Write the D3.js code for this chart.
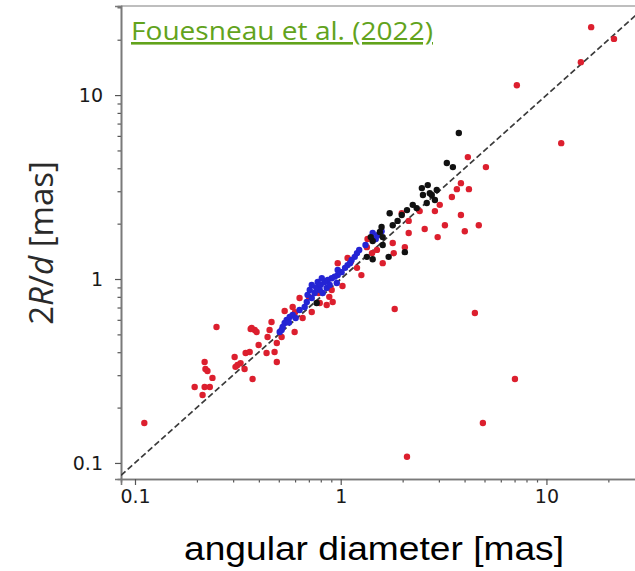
<!DOCTYPE html>
<html>
<head>
<meta charset="utf-8">
<script src="https://cdn.jsdelivr.net/npm/d3@7"></script>
<style>
  html, body { margin: 0; padding: 0; background: #fff; }
  svg { display: block; }
</style>
</head>
<body>
<svg id="chart" width="635" height="571"></svg>
<script>
// Angular diameter vs. 2R/d, both in mas — [angular diameter, 2R/d]
const redStars = [
  [0.111, 0.165], [2.10, 0.108], [4.91, 0.165], [7.03, 0.286], [4.49, 0.653],
  [1.83, 0.687], [11.8, 5.48], [7.18, 11.3], [16.5, 23.4], [21.3, 20.2],
  [14.7, 15.1], [4.15, 4.60], [5.08, 4.06], [3.84, 3.32], [3.67, 3.08],
  [4.20, 3.08], [2.87, 2.34], [3.84, 2.23], [3.21, 1.96], [4.69, 1.96],
  [2.56, 1.87], [4.01, 1.82], [2.96, 1.69], [2.14, 1.78], [2.42, 2.34],
  [2.14, 2.07], [1.98, 2.28], [1.79, 1.57], [1.81, 1.38], [2.05, 1.49],
  [1.60, 1.22], [1.50, 1.44], [1.35, 1.65], [1.34, 1.49], [1.08, 1.30],
  [0.967, 1.22], [0.914, 0.750], [0.855, 0.723], [0.791, 0.741], [0.904, 0.871],
  [0.534, 0.670], [0.584, 0.705], [0.597, 0.515], [0.461, 0.584], [0.451, 0.528],
  [0.382, 0.528], [0.369, 0.542], [0.489, 0.449], [0.441, 0.484], [0.516, 0.484],
  [0.653, 0.614], [0.723, 0.662], [0.249, 0.548], [0.365, 0.535], [0.390, 0.515],
  [0.399, 0.438], [0.436, 0.396], [0.477, 0.401], [0.489, 0.354], [0.305, 0.377],
  [0.326, 0.349], [0.345, 0.396], [0.361, 0.401], [0.315, 0.341], [0.341, 0.324],
  [0.373, 0.286], [0.308, 0.333], [0.218, 0.354], [0.220, 0.324], [0.225, 0.316],
  [0.238, 0.290], [0.195, 0.259], [0.218, 0.259], [0.231, 0.259], [0.213, 0.234],
  [1.20, 1.15], [1.26, 1.05], [1.02, 0.916], [0.631, 0.788], [3.47, 2.79],
  [3.03, 2.53], [0.70, 0.80], [0.78, 0.84], [0.60, 0.66], [1.12, 1.24],
  [1.42, 1.38], [0.88, 0.80]
];
const blueStars = [
  [1.58, 1.82], [1.51, 1.73], [1.43, 1.78], [1.48, 1.65], [1.20, 1.38],
  [1.17, 1.32], [1.13, 1.27], [1.08, 1.19], [1.05, 1.15], [1.01, 1.09],
  [0.967, 1.05], [0.935, 1.03], [0.904, 1.01], [0.865, 0.988], [0.836, 0.963],
  [0.809, 1.01], [0.773, 0.963], [0.723, 0.928], [0.707, 0.871], [0.747, 0.839],
  [0.723, 0.788], [0.684, 0.750], [0.817, 0.839], [0.855, 0.894], [0.884, 0.928],
  [0.957, 0.951], [0.668, 0.705], [0.546, 0.599], [0.534, 0.577], [0.522, 0.548],
  [0.516, 0.528], [0.505, 0.515], [0.565, 0.621], [0.584, 0.637], [1.11, 1.22],
  [0.967, 1.12], [0.631, 0.679], [0.604, 0.614], [0.791, 0.871], [1.23, 1.44],
  [1.32, 1.53], [0.76, 0.90], [0.69, 0.82], [0.80, 0.93], [0.56, 0.58]
];
const blackStars = [
  [3.75, 6.22], [3.28, 4.27], [3.51, 4.06], [2.77, 2.86], [2.48, 3.12],
  [2.51, 2.86], [2.71, 2.93], [2.62, 2.59], [2.34, 2.43], [2.24, 2.53],
  [2.10, 2.37], [1.98, 2.23], [1.89, 2.07], [1.73, 2.28], [1.79, 1.96],
  [1.58, 1.92], [1.55, 1.80], [1.60, 1.69], [1.43, 1.61], [1.40, 1.69],
  [1.60, 1.53], [1.71, 1.32], [2.05, 1.40], [1.43, 1.28], [1.34, 1.32],
  [0.764, 0.741], [2.93, 3.05], [2.65, 3.24], [2.87, 2.69]
];
const majorTicks = [0.1, 1, 10];
const tickLabels = ["0.1", "1", "10"];
const minorTicksX = [0.2, 0.3, 0.4, 0.5, 0.6, 0.7, 0.8, 0.9, 2, 3, 4, 5, 6, 7, 8, 9, 20];
const minorTicksY = [0.2, 0.3, 0.4, 0.5, 0.6, 0.7, 0.8, 0.9, 2, 3, 4, 5, 6, 7, 8, 9, 20, 30];

const svg = d3.select("#chart");
const plotLeft = 121, plotRight = 640, plotTop = 6, plotBottom = 479;

const x = d3.scaleLog().domain([0.0855, 28.5]).range([plotLeft, plotRight]);
const y = d3.scaleLog().domain([0.0818, 30.5]).range([plotBottom, plotTop]);

// clip for the plotting area
svg.append("defs").append("clipPath").attr("id", "plotArea")
  .append("rect").attr("x", plotLeft).attr("y", plotTop)
  .attr("width", plotRight - plotLeft).attr("height", plotBottom - plotTop);

// frame (top spine)
svg.append("line")
  .attr("x1", plotLeft).attr("x2", plotRight).attr("y1", plotTop).attr("y2", plotTop)
  .attr("stroke", "#a8a8a8").attr("stroke-width", 1.6);

// x axis: major + minor ticks
const xAxisMajor = d3.axisBottom(x).tickValues(majorTicks)
  .tickFormat((d, i) => tickLabels[i]).tickSize(6).tickPadding(5);
const xAxisMinor = d3.axisBottom(x).tickValues(minorTicksX).tickFormat("").tickSize(3.5);
svg.append("g").attr("transform", `translate(0,${plotBottom})`).call(xAxisMinor);
svg.append("g").attr("transform", `translate(0,${plotBottom})`).call(xAxisMajor);

const yAxisMajor = d3.axisLeft(y).tickValues(majorTicks)
  .tickFormat((d, i) => tickLabels[i]).tickSize(6).tickPadding(12);
const yAxisMinor = d3.axisLeft(y).tickValues(minorTicksY).tickFormat("").tickSize(3.5);
svg.append("g").attr("transform", `translate(${plotLeft},0)`).call(yAxisMinor);
svg.append("g").attr("transform", `translate(${plotLeft},0)`).call(yAxisMajor);

svg.selectAll(".domain").attr("stroke", "#7a7a7a").attr("stroke-width", 1.6);
svg.selectAll(".tick line").attr("stroke", "#555").attr("stroke-width", 1.2);
svg.selectAll(".tick text")
  .attr("font-family", "DejaVu Sans, sans-serif")
  .attr("font-size", 19).attr("fill", "#1a1a1a");

const plot = svg.append("g").attr("clip-path", "url(#plotArea)");

// one-to-one reference line
const diag = d3.line().x(d => x(d)).y(d => y(d));
plot.append("path")
  .attr("d", diag(x.domain()))
  .attr("fill", "none").attr("stroke", "#3a3a3a")
  .attr("stroke-width", 1.7).attr("stroke-dasharray", "6,3");

function drawStars(data, color) {
  plot.append("g").selectAll("circle").data(data).join("circle")
    .attr("cx", d => x(d[0])).attr("cy", d => y(d[1]))
    .attr("r", 3.2).attr("fill", color);
}
drawStars(redStars, "#dc1f2e");
drawStars(blueStars, "#2424d4");
drawStars(blackStars, "#111111");

// axis titles
svg.append("text")
  .attr("x", 374).attr("y", 560)
  .attr("text-anchor", "middle")
  .attr("font-family", "Liberation Sans, Arial, sans-serif")
  .attr("font-size", 33).attr("fill", "#000")
  .attr("textLength", 380).attr("lengthAdjust", "spacingAndGlyphs")
  .text("angular diameter [mas]");

const yTitle = svg.append("text")
  .attr("transform", "translate(53,243) rotate(-90)")
  .attr("text-anchor", "middle")
  .attr("font-family", "Open Sans, sans-serif")
  .attr("font-size", 33).attr("fill", "#2a2a2a");
yTitle.append("tspan").text("2");
yTitle.append("tspan").attr("font-style", "italic").text("R");
yTitle.append("tspan").text("/");
yTitle.append("tspan").attr("font-style", "italic").text("d");
yTitle.append("tspan").text(" [mas]");

// citation
svg.append("text")
  .attr("x", 131).attr("y", 40)
  .attr("font-family", "Open Sans, sans-serif")
  .attr("font-size", 26).attr("fill", "#62a31c")
  .attr("text-decoration", "underline")
  .attr("textLength", 302).attr("lengthAdjust", "spacingAndGlyphs")
  .text("Fouesneau et al. (2022)");
</script>
</body>
</html>
